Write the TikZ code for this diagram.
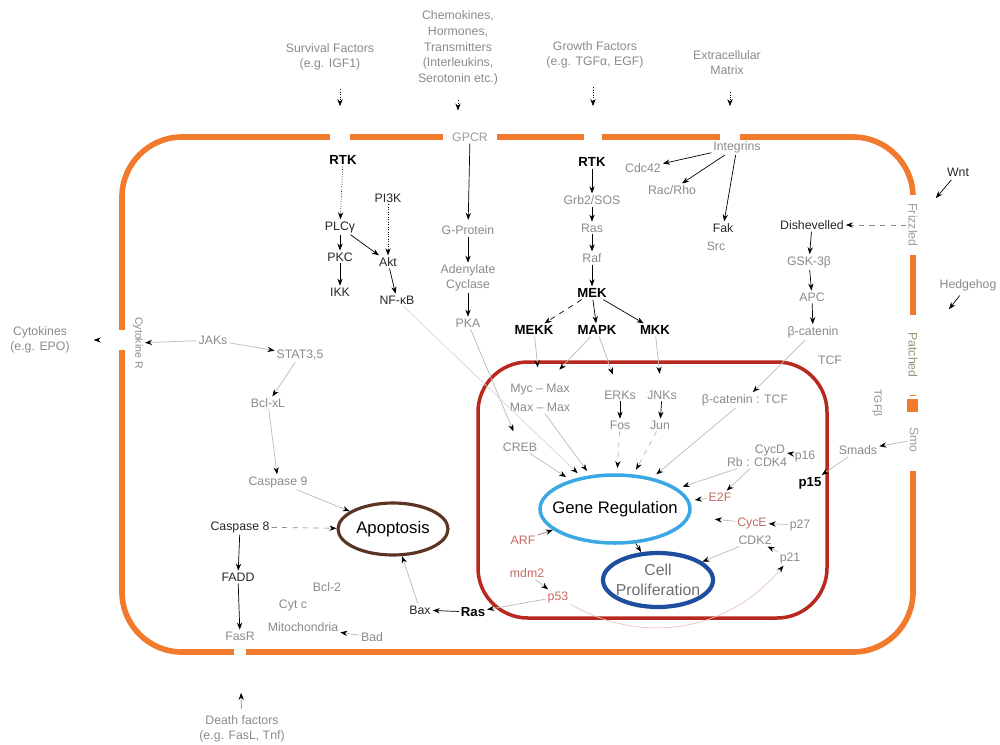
\documentclass[tikz,border=0pt]{standalone}
\usepackage{fontspec}
\setmainfont{Liberation Sans}
\usetikzlibrary{arrows.meta,shapes.geometric}

\definecolor{membrane}{HTML}{F27A2C}
\definecolor{nucred}{HTML}{B8281E}
\definecolor{generg}{HTML}{3BA7E3}
\definecolor{prolifcol}{HTML}{1E4E9E}
\definecolor{apopcol}{HTML}{5C3424}
\definecolor{faint}{HTML}{8A8A8A}
\definecolor{memgrey}{HTML}{9A9E9A}
\definecolor{olivegrey}{HTML}{8C9A7C}
\definecolor{pinkred}{HTML}{C46A62}

\begin{document}
\begin{tikzpicture}[x=0.02cm, y=-0.02cm, thin,
  >={Stealth[length=4pt, width=3pt, color=black]},
  lbl/.style={font=\fontsize{7}{8.5}\selectfont, text=faint, inner sep=1pt, align=center},
  dark/.style={lbl, text=black!85},
  bold/.style={lbl, text=black, font=\fontsize{7.5}{9}\selectfont\bfseries},
  nuclbl/.style={lbl, text=pinkred},
  gap/.style={fill=white, inner sep=0pt, minimum width=4mm, minimum height=3mm},
  memlbl/.style={lbl, fill=white, rotate=-90, text=memgrey},
  arr/.style={->, black},
  farr/.style={->, faint!60}]

\useasboundingbox (0,0) rectangle (1000,744);

% ---------- Cell membrane ----------
\draw[membrane, line width=3.2pt, rounded corners=1.2cm] (122,137) rectangle (913,652);

% receptors in the membrane
\node[gap] (rtkA) at (340,137) {};
\node[lbl, fill=white, minimum width=1.08cm, text=memgrey] (gpcr) at (470,137) {GPCR};
\node[gap, minimum width=3.6mm] (rtkB) at (593,137) {};
\node[gap] (intg) at (730,137) {};
\node[gap, minimum width=3mm, minimum height=4mm] (cytr) at (122,340) {};
\node[gap, minimum width=2.4mm] (fasgap) at (240,652) {};
\node[memlbl, minimum width=1.2cm] (frz) at (913,225) {Frizzled};
\node[memlbl, minimum width=1.6cm, text=olivegrey] (ptc) at (913,355) {Patched};
\node[gap, minimum width=3mm, minimum height=1.5cm] (smogap) at (913,433) {};
\node[fill=membrane, inner sep=0pt, minimum width=2.2mm, minimum height=2.6mm] (smosq) at (912,405) {};
\node[lbl, rotate=-90, text=memgrey] (smo) at (914,440) {Smo};
\node[lbl, rotate=-90, font=\fontsize{6}{7}\selectfont] (cytlbl) at (138,343) {Cytokine R};

% ---------- Outside signals ----------
\node[lbl] (survf) at (330,57) {Survival Factors\\(e.g. IGF1)};
\node[lbl, font=\fontsize{7}{9}\selectfont] (chemo) at (458,48) {Chemokines,\\Hormones,\\Transmitters\\(Interleukins,\\Serotonin etc.)};
\node[lbl] (growf) at (595,55) {Growth Factors\\(e.g. TGFα, EGF)};
\node[lbl] (ecm) at (727,63) {Extracellular\\Matrix};
\node[dark] (wnt) at (958,172) {Wnt};
\node[lbl] (hedge) at (968,285) {Hedgehog};
\node[lbl] (cytok) at (40,340) {Cytokines\\(e.g. EPO)};
\node[lbl] (death) at (242,729) {Death factors\\(e.g. FasL, Tnf)};

\draw[arr, densely dotted, shorten <=0.34cm, shorten >=0.46cm] (survf.south -| rtkA) -- (rtkA);
\draw[arr, densely dotted, shorten <=0.26cm, shorten >=0.4cm] (chemo.south) -- (chemo.south |- gpcr.north);
\draw[arr, densely dotted, shorten <=0.34cm, shorten >=0.46cm] (growf.south -| rtkB) -- (rtkB);
\draw[arr, densely dotted, shorten <=0.3cm, shorten >=0.46cm] (ecm.south -| intg) -- (intg);
\draw[arr, shorten <=1pt, shorten >=0.5cm] (wnt) -- (frz);
\draw[arr, shorten <=2pt, shorten >=0.95cm] (hedge) -- (ptc);
\draw[arr, shorten <=0.36cm, shorten >=0.44cm] (cytr) -- (cytok);
\draw[arr, faint, shorten <=0.1cm, shorten >=0.66cm] (death) -- (fasgap);

% ---------- Receptor tyrosine kinases ----------
\node[bold] (rtk1) at (343,160) {RTK};
\node[bold] (rtk2) at (592,162) {RTK};
\node[lbl] (integ) at (737,147) {Integrins};

\node[dark] (plc) at (340,227) {PLCγ};
\node[dark] (pkc) at (340,257) {PKC};
\node[dark] (ikk) at (340,292) {IKK};
\node[dark] (pi3k) at (388,198) {PI3K};
\node[dark] (akt) at (388,262) {Akt};
\node[dark] (nfkb) at (397,300) {NF-κB};

\draw[arr, densely dotted] (rtk1) -- (plc);
\draw[arr] (plc) -- (pkc);
\draw[arr] (pkc) -- (ikk);
\draw[arr, densely dotted] (pi3k) -- (akt);
\draw[arr] (plc) -- (akt);
\draw[arr] (akt) -- (nfkb);

% G-protein column
\node[lbl] (gprot) at (468,230) {G-Protein};
\node[lbl] (adcyc) at (468,278) {Adenylate\\Cyclase};
\node[lbl] (pka) at (468,323) {PKA};
\draw[arr, shorten >=2pt] (gpcr) -- (gprot);
\draw[arr] (gprot) -- (adcyc);
\draw[arr] (adcyc) -- (pka);

% Ras cascade
\node[lbl] (grb) at (592,200) {Grb2/SOS};
\node[lbl] (ras) at (592,228) {Ras};
\node[lbl] (raf) at (592,258) {Raf};
\node[bold] (mek) at (592,293) {MEK};
\node[bold] (mekk) at (534,330) {MEKK};
\node[bold] (mapk) at (597,330) {MAPK};
\node[bold] (mkk) at (655,330) {MKK};
\draw[arr] (rtk2) -- (grb);
\draw[arr] (grb) -- (ras);
\draw[arr] (ras) -- (raf);
\draw[arr] (raf) -- (mek);
\draw[arr, dashed] (mek) -- (mekk);
\draw[arr] (mek) -- (mapk);
\draw[arr] (mek) -- (mkk);

% Integrin signals
\node[lbl] (cdc) at (643,168) {Cdc42};
\node[lbl] (rac) at (672,190) {Rac/Rho};
\node[dark] (fak) at (723,228) {Fak};
\node[lbl] (src) at (716,246) {Src};
\draw[arr] (integ) -- (cdc);
\draw[arr] (integ) -- (rac);
\draw[arr] (integ) -- (fak);

% Wnt column
\node[dark] (dsh) at (812,225) {Dishevelled};
\node[lbl] (gsk) at (809,262) {GSK-3β};
\node[lbl] (apc) at (812,297) {APC};
\node[lbl] (bcat) at (813,332) {β-catenin};
\node[lbl] (tcf) at (830,360) {TCF};
\draw[arr, dashed, faint] (frz) -- (dsh);
\draw[arr] (dsh) -- (gsk);
\draw[arr] (gsk) -- (apc);
\draw[arr] (apc) -- (bcat);

% Cytokine column
\node[lbl] (jaks) at (213,340) {JAKs};
\node[lbl] (stat) at (300,355) {STAT3,5};
\node[lbl] (bclx) at (268,403) {Bcl-xL};
\node[lbl] (casp9) at (278,482) {Caspase 9};
\draw[farr] (jaks) -- (cytlbl);
\draw[farr] (jaks) -- (stat);
\draw[farr] (stat) -- (bclx);
\draw[farr] (bclx) -- (casp9);

% ---------- Apoptosis ----------
\node[ellipse, draw=apopcol, line width=1.8pt, minimum width=2.2cm, minimum height=1.04cm] (apopt) at (393,529) {};
\node[font=\fontsize{9.5}{11}\selectfont] (apopttxt) at (apopt) {Apoptosis};
\node[dark] (casp8) at (240,527) {Caspase 8};
\node[dark] (fadd) at (238,577) {FADD};
\node[lbl] (fasr) at (240,636) {FasR};
\node[lbl] (bcl2) at (327,587) {Bcl-2};
\node[lbl] (cytc) at (293,605) {Cyt c};
\node[lbl] (mito) at (303,627) {Mitochondria};
\node[lbl] (bad) at (372,637) {Bad};
\node[dark] (bax) at (420,610) {Bax};
\node[bold] (rasb) at (473,612) {Ras};
\draw[arr, dashed, faint] (casp8) -- (apopt);
\draw[arr] (casp8) -- (fadd);
\draw[arr] (fadd) -- (fasr);
\draw[farr] (casp9) -- (apopt);
\draw[farr] (bax) -- (apopt);
\draw[arr] (rasb) -- (bax);
\draw[farr] (bad) -- (mito);

% ---------- Nucleus ----------
\draw[nucred, line width=2pt, rounded corners=1cm] (478,362) rectangle (827,618);

\node[ellipse, draw=generg, line width=2pt, minimum width=3cm, minimum height=1.36cm] (genereg) at (615,509) {};
\node[font=\fontsize{9.5}{11}\selectfont] (generegtxt) at (genereg) {Gene Regulation};
\node[ellipse, draw=prolifcol, line width=2.4pt, minimum width=2.2cm, minimum height=1.08cm] (prolif) at (658,580) {};
\node[align=center, text=faint!80!black, font=\fontsize{9}{11}\selectfont] (proliftxt) at (prolif) {Cell\\Proliferation};
\draw[arr] (genereg) -- (prolif);

\node[lbl] (mycmax) at (540,390) {Myc – Max};
\node[lbl] (maxmax) at (540,407) {Max – Max};
\node[lbl] (creb) at (520,447) {CREB};
\node[lbl] (erk) at (620,395) {ERKs};
\node[lbl] (jnk) at (662,395) {JNKs};
\node[lbl] (fos) at (620,425) {Fos};
\node[lbl] (jun) at (660,425) {Jun};
\node[lbl] (bcattcf) at (745,400) {β-catenin : TCF};
\node[lbl] (cycd) at (770,450) {CycD};
\node[lbl] (rbcdk4) at (757,462) {Rb : CDK4};
\node[lbl] (p16) at (805,456) {p16};
\node[lbl] (smads) at (858,450) {Smads};
\node[lbl, rotate=-90, font=\fontsize{6}{7}\selectfont] (tgfb) at (877,403) {TGFβ};
\node[bold] (p15) at (810,483) {p15};
\node[nuclbl] (e2f) at (720,497) {E2F};
\node[nuclbl] (cyce) at (752,523) {CycE};
\node[lbl] (p27) at (800,525) {p27};
\node[lbl] (cdk2) at (755,540) {CDK2};
\node[lbl] (p21) at (790,558) {p21};
\node[nuclbl] (arf) at (523,540) {ARF};
\node[nuclbl] (mdm2) at (527,573) {mdm2};
\node[nuclbl] (p53n) at (558,597) {p53};

% into the nucleus
\draw[farr, shorten >=0.3cm] (mekk) -- (mycmax);
\draw[farr, shorten >=0.35cm] (mapk) -- (mycmax);
\draw[farr, shorten >=0.3cm] (mapk) -- (erk);
\draw[farr, shorten >=0.3cm] (mkk) -- (jnk);
\draw[farr, shorten >=0.2cm] (pka) -- (creb);
\draw[farr] (bcat) -- (bcattcf);

% onto gene regulation
\draw[farr, shorten >=3pt] (creb) -- (genereg);
\draw[farr, shorten >=3pt] (maxmax) -- (genereg);
\draw[->, faint!35, shorten >=3pt] (nfkb) -- (genereg);
\draw[arr] (erk) -- (fos);
\draw[arr] (jnk) -- (jun);
\draw[farr, dashed, shorten >=3pt] (fos) -- (genereg);
\draw[farr, dashed, shorten >=3pt] (jun) -- (genereg);
\draw[farr, shorten >=3pt] (bcattcf) -- (genereg);
\draw[farr, shorten >=3pt] (rbcdk4) -- (genereg);
\draw[farr, shorten >=3pt] (e2f) -- (genereg);
\draw[farr] (rbcdk4) -- (e2f);
\draw[farr] (p16) -- (cycd);
\draw[farr] (smo) -- (smads);
\draw[farr] (smads) -- (p15);
\draw[farr] (p27) -- (cyce);
\draw[farr, shorten >=0.5cm] (cyce) -- (genereg);
\draw[farr] (p21) -- (cdk2);
\draw[farr] (cdk2) -- (prolif);
\draw[->, pinkred] (arf) -- (genereg);
\draw[farr] (mdm2) -- (p53n);
\draw[farr] (p53n) -- (rasb);
\draw[farr, pinkred!40] (p53n) to[bend right=40] (p21);

\end{tikzpicture}
\end{document}
